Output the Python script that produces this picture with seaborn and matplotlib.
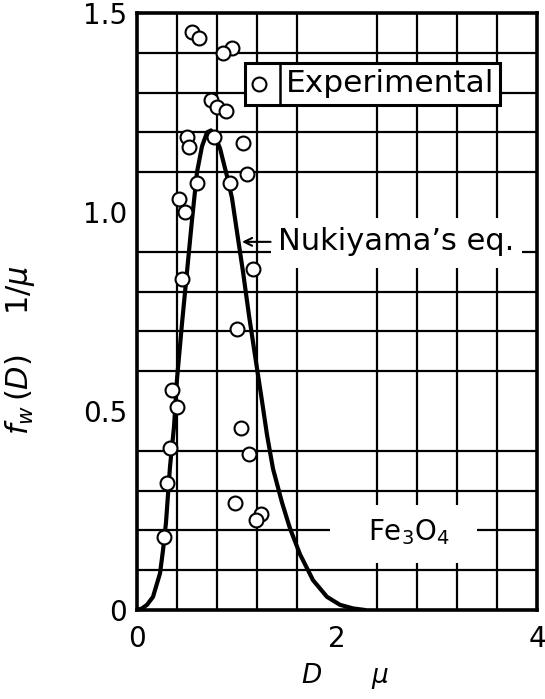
import numpy as np
import pandas as pd
import seaborn as sns
import matplotlib
matplotlib.use("Agg")
import matplotlib.pyplot as plt
from matplotlib.patches import Rectangle
from matplotlib.lines import Line2D

# ---------------- data ----------------
exp_D = [0.547, 0.62, 0.953, 0.857, 0.74, 0.803, 0.887, 0.503, 0.523, 0.773,
         1.063, 1.103, 0.93, 0.597, 0.42, 0.48, 1.157, 0.447, 1.003, 0.353,
         0.397, 1.04, 1.12, 0.33, 0.303, 0.983, 1.24, 1.187, 0.27]
exp_f = [1.453, 1.438, 1.411, 1.400, 1.281, 1.265, 1.255, 1.188, 1.164, 1.189,
         1.174, 1.095, 1.072, 1.072, 1.033, 0.999, 0.856, 0.831, 0.705, 0.553,
         0.511, 0.458, 0.392, 0.408, 0.320, 0.270, 0.241, 0.226, 0.184]

curve_D = [0.0, 0.05, 0.10, 0.16, 0.23, 0.26, 0.29, 0.31, 0.33, 0.37, 0.40,
           0.45, 0.50, 0.55, 0.60, 0.65, 0.70, 0.74, 0.78, 0.83, 0.90, 0.95,
           1.00, 1.06, 1.12, 1.18, 1.25, 1.30, 1.36, 1.45, 1.53, 1.63, 1.76,
           1.90, 2.03, 2.16, 2.28]
curve_f = [0.0, 0.004, 0.013, 0.033, 0.092, 0.15, 0.22, 0.29, 0.36, 0.46, 0.58,
           0.72, 0.85, 0.98, 1.10, 1.165, 1.20, 1.205, 1.19, 1.16, 1.09, 1.035,
           0.95, 0.85, 0.74, 0.64, 0.525, 0.44, 0.355, 0.27, 0.205, 0.14, 0.075,
           0.033, 0.013, 0.004, 0.0]

x_ticks = [0, 2, 4]
x_tick_labels = ["0", "2", "4"]
y_ticks = [0, 0.5, 1.0, 1.5]
y_tick_labels = ["0", "0.5", "1.0", "1.5"]

exp_df = pd.DataFrame({"D": exp_D, "f": exp_f})
curve_df = pd.DataFrame({"D": curve_D, "f": curve_f})

# ---------------- style ----------------
sns.set_theme(style="white")
plt.rcParams["font.family"] = ["DejaVu Sans"]
plt.rcParams["mathtext.default"] = "regular"
plt.rcParams["text.color"] = "black"
plt.rcParams["axes.labelcolor"] = "black"
plt.rcParams["xtick.color"] = "black"
plt.rcParams["ytick.color"] = "black"

fig = plt.figure(figsize=(5.45, 6.99), dpi=100)
ax = fig.add_axes([137 / 545, 1 - 610 / 699, 400 / 545, 597 / 699])

ax.set_xlim(0, 4)
ax.set_ylim(0, 1.5)

# grid
ax.set_xticks(np.arange(0, 4.001, 0.4), minor=True)
ax.set_yticks(np.arange(0, 1.5001, 0.1), minor=True)
ax.set_xticks(x_ticks)
ax.set_xticklabels(x_tick_labels)
ax.set_yticks(y_ticks)
ax.set_yticklabels(y_tick_labels)
ax.grid(False, which="major")
ax.grid(True, which="minor", color="black", linewidth=1.6)
ax.set_axisbelow(True)
ax.tick_params(which="both", length=0)
ax.tick_params(axis="y", labelsize=20, pad=7, labelcolor="black")
ax.tick_params(axis="x", labelsize=20, pad=11, labelcolor="black")
for sp in ax.spines.values():
    sp.set_color("black")
    sp.set_linewidth(2.6)

# white backgrounds behind the text blocks
ax.add_patch(Rectangle((1.34, 0.859), 2.51, 0.126, facecolor="white",
                       edgecolor="none", zorder=1))
ax.add_patch(Rectangle((1.93, 0.118), 1.47, 0.146, facecolor="white",
                       edgecolor="none", zorder=1))

# curve & points
sns.lineplot(data=curve_df, x="D", y="f", ax=ax, color="black", linewidth=3,
             legend=False, zorder=3, sort=False)
sns.scatterplot(data=exp_df, x="D", y="f", ax=ax, s=100, facecolor="white",
                edgecolor="black", linewidth=1.5, zorder=4, label="Experimental")

# annotations
ax.annotate("Nukiyama\u2019s eq.", xy=(1.05, 0.925), xytext=(1.41, 0.925),
            fontsize=22, va="center", ha="left", zorder=5, color="black",
            arrowprops=dict(arrowstyle="->", lw=1.5, color="black",
                            shrinkA=3, shrinkB=0, mutation_scale=14))
ax.text(2.72, 0.195, "Fe$_3$O$_4$", fontsize=20, ha="center", va="center",
        zorder=5, color="black")

# legend
leg = ax.legend(loc="upper left", bbox_to_anchor=(0.27, 0.916), fontsize=22.5,
                frameon=True, fancybox=False, framealpha=1, edgecolor="black",
                borderpad=0.2, handlelength=0.5, handletextpad=0.6,
                borderaxespad=0, markerscale=1.0)
leg.get_frame().set_linewidth(2.2)
leg.set_zorder(6)
for t in leg.get_texts():
    t.set_color("black")

# axis labels
ax.set_xlabel("$\\mathit{D}$      $\\mathit{\\mu}$", fontsize=19, color="black")
ax.xaxis.set_label_coords(0.52, -0.085)
ax.set_ylabel("$\\mathit{f_w\\,(D)}$    1/$\\mathit{\\mu}$", fontsize=22, color="black")
ax.yaxis.set_label_coords(-0.25, 0.435)

# divider in legend between marker and text
fig.canvas.draw()
tb = leg.get_texts()[0].get_window_extent()
fb = leg.get_frame().get_window_extent()
xdiv = tb.x0 - 6
inv = fig.transFigure.inverted()
(x0, y0) = inv.transform((xdiv, fb.y0))
(x1, y1) = inv.transform((xdiv, fb.y1))
fig.add_artist(Line2D([x0, x1], [y0, y1], color="black", linewidth=1.8,
                      transform=fig.transFigure, zorder=10))

fig.savefig("out.png", dpi=100)
